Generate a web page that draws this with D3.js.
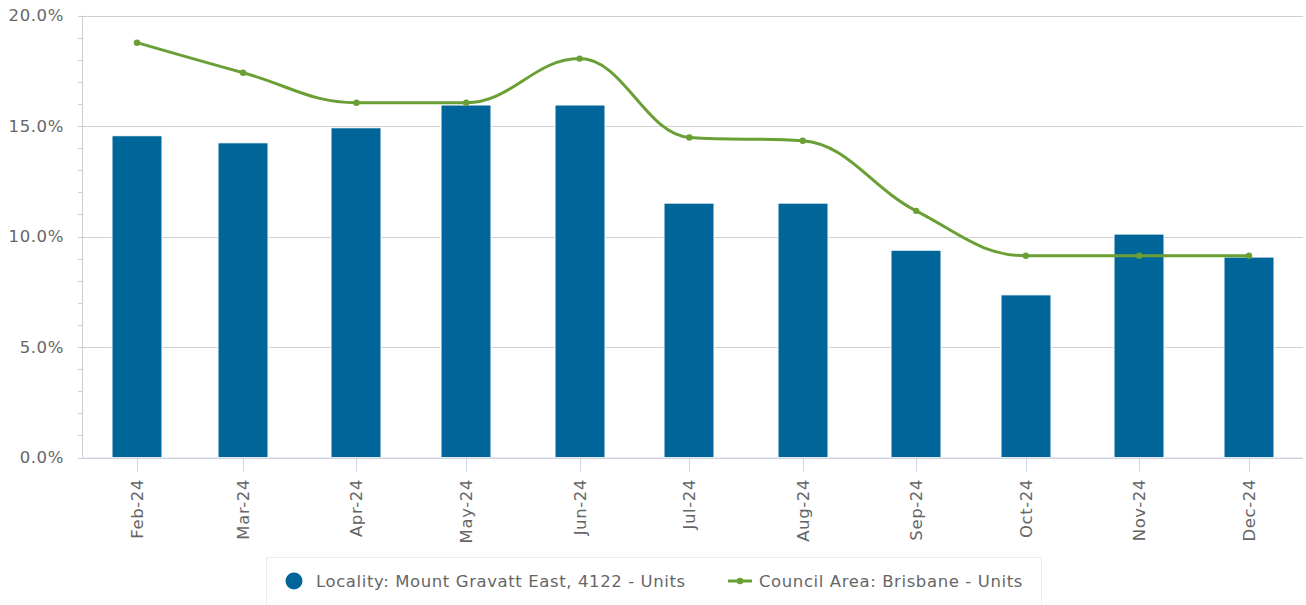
<!DOCTYPE html>
<html>
<head>
<meta charset="utf-8">
<script src="https://cdn.jsdelivr.net/npm/d3@7"></script>
<style>
  html, body { margin: 0; padding: 0; background: #fff; }
  svg { display: block; font-family: "DejaVu Sans", sans-serif; }
  text { letter-spacing: 0.6px; }
</style>
</head>
<body>
<svg id="chart" width="1306" height="605"></svg>
<script>
const categories = ["Feb-24","Mar-24","Apr-24","May-24","Jun-24","Jul-24","Aug-24","Sep-24","Oct-24","Nov-24","Dec-24"];
const localityValues = [14.56, 14.24, 14.92, 15.95, 15.95, 11.51, 11.51, 9.38, 7.36, 10.11, 9.07];
const councilValues = [18.77, 17.41, 16.05, 16.05, 18.05, 14.48, 14.33, 11.16, 9.13, 9.13, 9.13];
const yTicks = [0, 5, 10, 15, 20];
const yMinorTicks = d3.range(0, 21, 1);
const seriesNames = ["Locality: Mount Gravatt East, 4122 - Units", "Council Area: Brisbane - Units"];

const barColor = "#006699";
const lineColor = "#6a9f35";
const labelColor = "#666666";
const fontSize = 16.5;

const svg = d3.select("#chart");
const plot = { left: 82, right: 1303, top: 15.5, bottom: 457.5 };

const parse = d3.timeParse("%b-%y");
const dates = categories.map(parse);

// datetime x axis (month lengths differ, as in the original)
const x = d3.scaleTime().domain(d3.extent(dates)).range([plot.left + 55, plot.right - 54]);
const barWidth = 50;
const y = d3.scaleLinear().domain([0, 20]).range([plot.bottom, plot.top]);

// gridlines
svg.append("g").selectAll("line").data(yTicks).join("line")
  .attr("x1", plot.left - 4).attr("x2", plot.right)
  .attr("y1", d => Math.round(y(d)) + 0.5).attr("y2", d => Math.round(y(d)) + 0.5)
  .attr("stroke", "#d0d0d0").attr("stroke-width", 1);

// y axis line + minor ticks
svg.append("line").attr("x1", plot.left + 0.5).attr("x2", plot.left + 0.5)
  .attr("y1", plot.top).attr("y2", plot.bottom).attr("stroke", "#cccccc");
svg.append("g").selectAll("line").data(yMinorTicks).join("line")
  .attr("x1", plot.left - 4).attr("x2", plot.left)
  .attr("y1", d => Math.round(y(d)) + 0.5).attr("y2", d => Math.round(y(d)) + 0.5)
  .attr("stroke", "#cccccc");

// y labels
svg.append("g").selectAll("text").data(yTicks).join("text")
  .attr("x", 64).attr("y", d => y(d) + 5.8)
  .attr("text-anchor", "end").attr("fill", labelColor).attr("font-size", fontSize)
  .text(d => d.toFixed(1) + "%");

// bars
svg.append("g").selectAll("rect").data(localityValues).join("rect")
  .attr("x", (d, i) => Math.round(x(dates[i]) - barWidth / 2))
  .attr("y", d => y(d))
  .attr("width", barWidth)
  .attr("height", d => plot.bottom - y(d))
  .attr("fill", barColor).attr("stroke", "#ffffff").attr("stroke-width", 1);

// x axis line
svg.append("line").attr("x1", plot.left).attr("x2", plot.right)
  .attr("y1", plot.bottom + 0.5).attr("y2", plot.bottom + 0.5).attr("stroke", "#ccd6eb");

// x ticks
svg.append("g").selectAll("line").data(dates).join("line")
  .attr("x1", d => Math.round(x(d)) + 0.5)
  .attr("x2", d => Math.round(x(d)) + 0.5)
  .attr("y1", plot.bottom).attr("y2", plot.bottom + 14)
  .attr("stroke", "#ccd6eb");

// x labels
svg.append("g").selectAll("text").data(categories).join("text")
  .attr("transform", (d, i) => `translate(${x(dates[i]) + 6},479) rotate(-90)`)
  .attr("text-anchor", "end").attr("fill", labelColor).attr("font-size", fontSize)
  .text(d => d);

// Highcharts-style spline
const pts = councilValues.map((v, i) => ({ x: x(dates[i]), y: y(v) }));
function splinePath(points) {
  const smoothing = 1.5, denom = smoothing + 1;
  const p = d3.path();
  points.forEach((pt, i) => {
    const last = points[i - 1], next = points[i + 1];
    let lcx, lcy, rcx, rcy;
    if (last && next) {
      lcx = (smoothing * pt.x + last.x) / denom;
      lcy = (smoothing * pt.y + last.y) / denom;
      rcx = (smoothing * pt.x + next.x) / denom;
      rcy = (smoothing * pt.y + next.y) / denom;
      if (rcx !== lcx) {
        const corr = ((rcy - lcy) * (rcx - pt.x)) / (rcx - lcx) + pt.y - rcy;
        lcy += corr; rcy += corr;
      }
      if (lcy > last.y && lcy > pt.y) { lcy = Math.max(last.y, pt.y); rcy = 2 * pt.y - lcy; }
      else if (lcy < last.y && lcy < pt.y) { lcy = Math.min(last.y, pt.y); rcy = 2 * pt.y - lcy; }
      if (rcy > next.y && rcy > pt.y) { rcy = Math.max(next.y, pt.y); lcy = 2 * pt.y - rcy; }
      else if (rcy < next.y && rcy < pt.y) { rcy = Math.min(next.y, pt.y); lcy = 2 * pt.y - rcy; }
      pt.rcx = rcx; pt.rcy = rcy;
    }
    if (i === 0) p.moveTo(pt.x, pt.y);
    else {
      p.bezierCurveTo(last.rcx ?? last.x, last.rcy ?? last.y, lcx ?? pt.x, lcy ?? pt.y, pt.x, pt.y);
    }
  });
  return p.toString();
}
svg.append("path").attr("d", splinePath(pts))
  .attr("fill", "none").attr("stroke", lineColor).attr("stroke-width", 3)
  .attr("stroke-linejoin", "round").attr("stroke-linecap", "round");
svg.append("g").selectAll("circle").data(pts).join("circle")
  .attr("cx", d => d.x).attr("cy", d => d.y).attr("r", 3.2).attr("fill", lineColor);

// legend
const lg = svg.append("g");
lg.append("rect").attr("x", 266.5).attr("y", 557.5).attr("width", 775).attr("height", 60)
  .attr("fill", "#fff").attr("stroke", "#eeeeee");
lg.append("circle").attr("cx", 294).attr("cy", 581).attr("r", 8.5).attr("fill", barColor);
lg.append("text").attr("x", 316).attr("y", 587).attr("fill", labelColor).attr("font-size", fontSize).text(seriesNames[0]);
lg.append("line").attr("x1", 728).attr("x2", 752).attr("y1", 581).attr("y2", 581)
  .attr("stroke", lineColor).attr("stroke-width", 3);
lg.append("circle").attr("cx", 740).attr("cy", 581).attr("r", 3.2).attr("fill", lineColor);
lg.append("text").attr("x", 759).attr("y", 587).attr("fill", labelColor).attr("font-size", fontSize).text(seriesNames[1]);
</script>
</body>
</html>
